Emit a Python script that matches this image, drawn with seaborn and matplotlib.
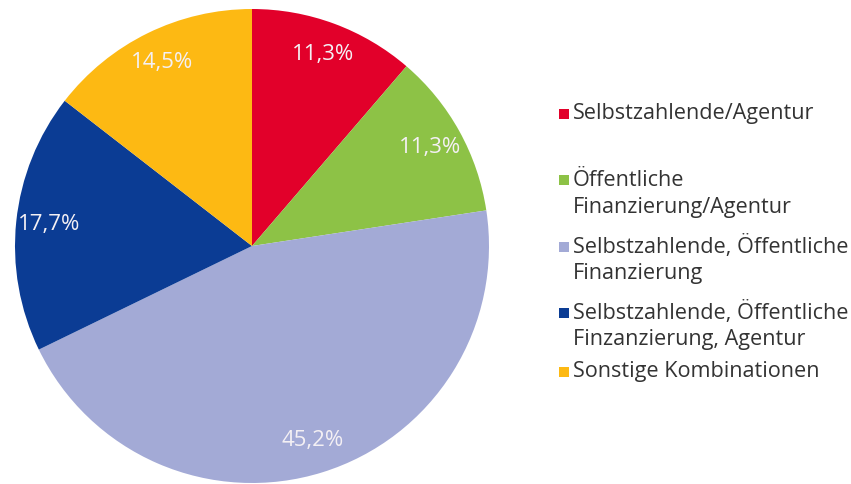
import matplotlib
matplotlib.use("Agg")
import matplotlib.pyplot as plt
import seaborn as sns
from matplotlib.patches import Rectangle

sns.set_theme(style="white")
plt.rcParams['font.family'] = ['Open Sans', 'DejaVu Sans']

categories = [
    "Selbstzahlende/Agentur",
    "Öffentliche\nFinanzierung/Agentur",
    "Selbstzahlende, Öffentliche\nFinanzierung",
    "Selbstzahlende, Öffentliche\nFinzanzierung, Agentur",
    "Sonstige Kombinationen",
]
values = [11.3, 11.3, 45.2, 17.7, 14.5]
colors = ["#E2002A", "#8DC246", "#A3AAD6", "#0B3C94", "#FDB913"]

W, H = 851, 484
fig = plt.figure(figsize=(W / 100, H / 100), dpi=100)
cx, cy, r = 252, 246, 237
ax = fig.add_axes([(cx - r) / W, (H - cy - r) / H, 2 * r / W, 2 * r / H])
ax.pie(values, colors=colors, startangle=90, counterclock=False, radius=1,
       autopct=lambda p: f"{p:.1f}%".replace(".", ","), pctdistance=0.86,
       textprops=dict(color="#F4F0F4", fontsize=16),
       wedgeprops=dict(linewidth=0))
ax.set_xlim(-1, 1)
ax.set_ylim(-1, 1)
ax.set_aspect("equal")
ax.axis("off")

# legend, drawn manually
lx_sq, lx_txt = 559, 573
ys = [114, 180, 247, 313, 372]
line_h = 27
for y, lab, col in zip(ys, categories, colors):
    fig.patches.append(Rectangle(((lx_sq) / W, (H - y - 5) / H), 10 / W, 10 / H,
                                 transform=fig.transFigure, color=col, linewidth=0))
    for i, line in enumerate(lab.split("\n")):
        fig.text(lx_txt / W, (H - (y + i * line_h)) / H, line, fontsize=15.6,
                 color="#333333", va="center", ha="left")

fig.savefig("out.png", dpi=100)
